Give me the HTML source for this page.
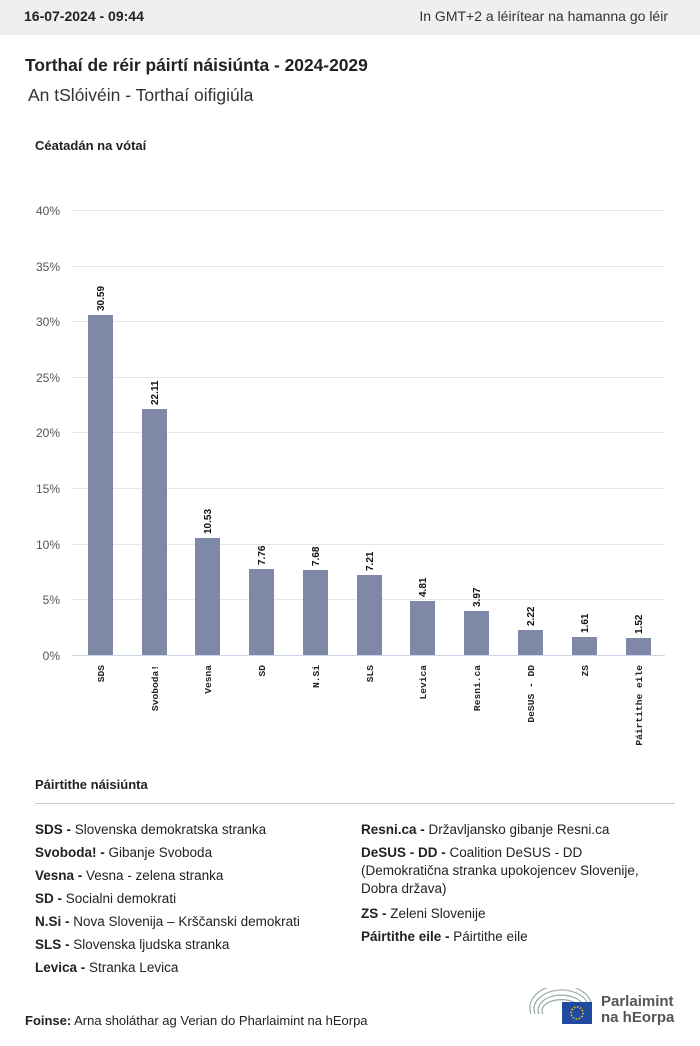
<!DOCTYPE html>
<html><head><meta charset="utf-8"><style>
body{margin:0;width:700px;height:1046px;background:#fff;font-family:"Liberation Sans",sans-serif;color:#222;position:relative;overflow:hidden}
.top{position:absolute;left:0;top:0;width:700px;height:35px;background:#eef0ef}
.t{position:absolute;white-space:nowrap}
.leg{font-size:13.5px;line-height:23px}
.leg b{font-weight:bold}
</style></head><body>
<div class="top"></div>
<div class="t" style="left:24px;top:8px;font-size:14px;font-weight:bold">16-07-2024 - 09:44</div>
<div class="t" style="right:32px;top:8px;font-size:14px;color:#333">In GMT+2 a léirítear na hamanna go léir</div>
<div class="t" style="left:25px;top:55px;font-size:17.4px;font-weight:bold">Torthaí de réir páirtí náisiúnta - 2024-2029</div>
<div class="t" style="left:28px;top:85px;font-size:17.5px;color:#333">An tSlóivéin - Torthaí oifigiúla</div>
<div class="t" style="left:35px;top:138px;font-size:13px;font-weight:bold">Céatadán na vótaí</div>
<svg style="position:absolute;left:0;top:0" width="700" height="780">
<g stroke="#e6e6e6" stroke-width="1">
<line x1="72" x2="665" y1="210.5" y2="210.5"/><line x1="72" x2="665" y1="266.5" y2="266.5"/><line x1="72" x2="665" y1="321.5" y2="321.5"/><line x1="72" x2="665" y1="377.5" y2="377.5"/><line x1="72" x2="665" y1="432.5" y2="432.5"/><line x1="72" x2="665" y1="488.5" y2="488.5"/><line x1="72" x2="665" y1="544.5" y2="544.5"/><line x1="72" x2="665" y1="599.5" y2="599.5"/>
</g>
<line x1="72" x2="665" y1="655.5" y2="655.5" stroke="#ccd6eb"/>
<g font-size="12" fill="#555" text-anchor="end" font-family="Liberation Sans,sans-serif">
<text x="60" y="215">40%</text><text x="60" y="271">35%</text><text x="60" y="326">30%</text><text x="60" y="382">25%</text><text x="60" y="437">20%</text><text x="60" y="493">15%</text><text x="60" y="549">10%</text><text x="60" y="604">5%</text><text x="60" y="660">0%</text>
</g>
<g fill="#7f88a6">
<rect x="88" y="315" width="25" height="340"/><rect x="142" y="409" width="25" height="246"/><rect x="195" y="538" width="25" height="117"/><rect x="249" y="569" width="25" height="86"/><rect x="303" y="570" width="25" height="85"/><rect x="357" y="575" width="25" height="80"/><rect x="410" y="601" width="25" height="54"/><rect x="464" y="611" width="25" height="44"/><rect x="518" y="630" width="25" height="25"/><rect x="572" y="637" width="25" height="18"/><rect x="626" y="638" width="25" height="17"/>
</g>
<g font-size="10" font-weight="bold" fill="#111" font-family="Liberation Sans,sans-serif">
<text transform="translate(104,311) rotate(-90)">30.59</text>
<text transform="translate(158,405) rotate(-90)">22.11</text>
<text transform="translate(211,534) rotate(-90)">10.53</text>
<text transform="translate(265,565) rotate(-90)">7.76</text>
<text transform="translate(319,566) rotate(-90)">7.68</text>
<text transform="translate(373,571) rotate(-90)">7.21</text>
<text transform="translate(426,597) rotate(-90)">4.81</text>
<text transform="translate(480,607) rotate(-90)">3.97</text>
<text transform="translate(534,626) rotate(-90)">2.22</text>
<text transform="translate(588,633) rotate(-90)">1.61</text>
<text transform="translate(642,634) rotate(-90)">1.52</text>
</g>
<g font-size="9.6" font-weight="bold" fill="#222" font-family="Liberation Mono,monospace" text-anchor="end">
<text transform="translate(104,665) rotate(-90)">SDS</text>
<text transform="translate(158,665) rotate(-90)">Svoboda!</text>
<text transform="translate(211,665) rotate(-90)">Vesna</text>
<text transform="translate(265,665) rotate(-90)">SD</text>
<text transform="translate(319,665) rotate(-90)">N.Si</text>
<text transform="translate(373,665) rotate(-90)">SLS</text>
<text transform="translate(426,665) rotate(-90)">Levica</text>
<text transform="translate(480,665) rotate(-90)">Resni.ca</text>
<text transform="translate(534,665) rotate(-90)">DeSUS - DD</text>
<text transform="translate(588,665) rotate(-90)">ZS</text>
<text transform="translate(642,665) rotate(-90)">Páirtithe eile</text>
</g>
</svg>
<div class="t" style="left:35px;top:777px;font-size:13px;font-weight:bold">Páirtithe náisiúnta</div>
<div style="position:absolute;left:35px;top:803px;width:640px;height:1px;background:#ccc"></div>
<div class="leg" style="position:absolute;left:35px;top:818px;width:310px">
<div><b>SDS - </b>Slovenska demokratska stranka</div>
<div><b>Svoboda! - </b>Gibanje Svoboda</div>
<div><b>Vesna - </b>Vesna - zelena stranka</div>
<div><b>SD - </b>Socialni demokrati</div>
<div><b>N.Si - </b>Nova Slovenija – Krščanski demokrati</div>
<div><b>SLS - </b>Slovenska ljudska stranka</div>
<div><b>Levica - </b>Stranka Levica</div>
</div>
<div class="leg" style="position:absolute;left:361px;top:818px;width:300px">
<div><b>Resni.ca - </b>Državljansko gibanje Resni.ca</div>
<div style="line-height:18px;margin-top:3px;margin-bottom:4px"><b>DeSUS - DD - </b>Coalition DeSUS - DD (Demokratična stranka upokojencev Slovenije, Dobra država)</div>
<div><b>ZS - </b>Zeleni Slovenije</div>
<div><b>Páirtithe eile - </b>Páirtithe eile</div>
</div>
<div class="t" style="left:25px;top:1013px;font-size:13px"><b>Foinse:</b> Arna sholáthar ag Verian do Pharlaimint na hEorpa</div>
<svg style="position:absolute;left:528px;top:988px" width="70" height="38">
<g fill="none" stroke="#9aa" stroke-width="1.2">
<path d="M3 26 A30 22 0 0 1 63 14"/><path d="M7 26 A26 18 0 0 1 60 16"/><path d="M11 26 A22 14 0 0 1 56 18"/><path d="M15 26 A18 10 0 0 1 52 19"/>
</g>
<rect x="34" y="14" width="30" height="22" fill="#1f4aa0"/>
<circle cx="49" cy="25" r="6" fill="none" stroke="#fc0" stroke-width="1.5" stroke-dasharray="1.5 1.6"/>
</svg>
<div class="t" style="left:601px;top:994px;font-size:15px;font-weight:bold;color:#555;line-height:16px">Parlaimint<br>na hEorpa</div>
</body></html>
